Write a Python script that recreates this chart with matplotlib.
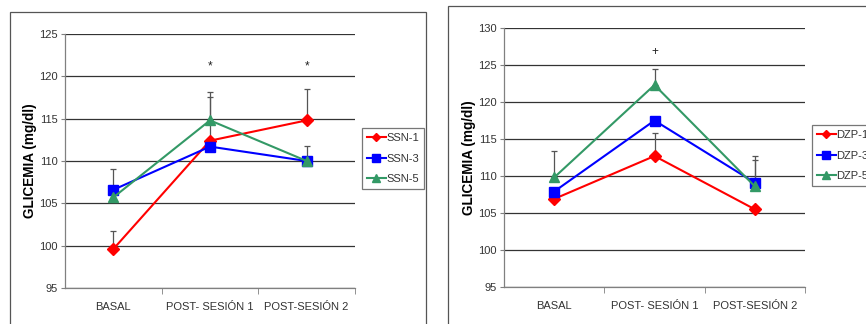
"""
Glycemia (mg/dl) over the three measurement points for the SSN and DZP groups.
Two side-by-side line charts with upper error bars, saved to out.png.
"""

import matplotlib.pyplot as plt
from matplotlib.patches import Rectangle

plt.rcParams["font.family"] = ["Liberation Sans", "DejaVu Sans"]

W, H = 866, 324

categories = ["BASAL", "POST- SESIÓN 1", "POST-SESIÓN 2"]

# SSN groups
ssn_labels = ["SSN-1", "SSN-3", "SSN-5"]
ssn_1 = [99.6, 112.4, 114.8]
ssn_3 = [106.6, 111.7, 110.0]
ssn_5 = [105.7, 114.8, 110.0]
ssn_1_err = [2.1, 5.1, 3.7]
ssn_3_err = [2.4, None, None]
ssn_5_err = [None, 3.3, 1.8]
ssn_marks = ["", "*", "*"]

# DZP groups
dzp_labels = ["DZP-1", "DZP-3", "DZP-5"]
dzp_1 = [106.9, 112.7, 105.5]
dzp_3 = [107.9, 117.5, 109.1]
dzp_5 = [109.8, 122.3, 108.6]
dzp_1_err = [None, 3.1, None]
dzp_3_err = [None, None, 3.6]
dzp_5_err = [3.6, 2.1, 3.5]
dzp_marks = ["", "+", ""]

COLORS = ["#ff0000", "#0000ff", "#339966"]
MARKERS = ["D", "s", "^"]
MSIZES = [6, 7, 7]


def px_axes(fig, x0, x1, y_top, y_bot):
    return fig.add_axes([x0 / W, 1 - y_bot / H, (x1 - x0) / W, (y_bot - y_top) / H])


def draw_panel(ax, series, errors, labels, marks, ylim, mark_y, legend_xy):
    x = list(range(len(categories)))
    handles = []
    for vals, errs, lab, c, m, ms in zip(series, errors, labels, COLORS, MARKERS, MSIZES):
        for i, e in enumerate(errs):
            if e is None:
                continue
            ax.errorbar([x[i]], [vals[i]], yerr=[[0], [e]], fmt="none",
                        ecolor="#555555", elinewidth=0.9, capsize=2.2,
                        capthick=0.9, zorder=2)
        h, = ax.plot(x, vals, color=c, marker=m, ms=ms, lw=1.5,
                     markeredgecolor=c, label=lab, zorder=3)
        handles.append(h)

    for i, s in enumerate(marks):
        if s:
            ax.text(x[i], mark_y, s, ha="center", va="center",
                    fontsize=8.5, color="#222222")

    ax.set_xlim(-0.5, len(categories) - 0.5)
    ax.set_ylim(*ylim)
    ax.set_yticks(range(ylim[0], ylim[1] + 1, 5))
    ax.yaxis.grid(True, color="#333333", lw=0.9)
    ax.set_axisbelow(True)
    ax.set_xticks(x)
    ax.set_xticklabels(categories)
    ax.set_xticks([0.5, 1.5, 2.5], minor=True)
    ax.tick_params(axis="x", which="major", length=0, pad=10)
    ax.tick_params(axis="x", which="minor", length=4, color="#808080")
    ax.tick_params(axis="y", length=3, color="#808080", pad=2)
    ax.tick_params(labelsize=8, labelcolor="#333333")
    for side in ("top", "right"):
        ax.spines[side].set_visible(False)
    for side in ("left", "bottom"):
        ax.spines[side].set_color("#808080")
        ax.spines[side].set_linewidth(0.9)
    ax.set_ylabel("GLICEMIA (mg/dl)", fontsize=9.8, fontweight="bold", labelpad=2)

    leg = ax.legend(handles=handles, loc="upper left",
                    bbox_to_anchor=(legend_xy[0] / W, 1 - legend_xy[1] / H),
                    bbox_transform=ax.figure.transFigure,
                    frameon=True, fancybox=False, fontsize=8, markerscale=0.75,
                    handlelength=1.7, handletextpad=0.05, labelspacing=0.95,
                    borderpad=0.45, borderaxespad=0)
    leg.get_frame().set_edgecolor("#555555")
    leg.get_frame().set_linewidth(0.9)
    for t in leg.get_texts():
        t.set_color("#333333")


fig = plt.figure(figsize=(W / 100, H / 100), dpi=100)

# outer chart borders
fig.patches.append(Rectangle((10 / W, -0.1), 416 / W, 1.1 - 12 / H,
                             transform=fig.transFigure, fill=False,
                             edgecolor="#555555", lw=0.9))
fig.patches.append(Rectangle((448 / W, -0.1), 500 / W, 1.1 - 6 / H,
                             transform=fig.transFigure, fill=False,
                             edgecolor="#555555", lw=0.9))

ax1 = px_axes(fig, 65, 355, 34, 288)
draw_panel(ax1, [ssn_1, ssn_3, ssn_5], [ssn_1_err, ssn_3_err, ssn_5_err],
           ssn_labels, ssn_marks, (95, 125), 121.2, (362, 128))

ax2 = px_axes(fig, 504, 805, 28, 287)
draw_panel(ax2, [dzp_1, dzp_3, dzp_5], [dzp_1_err, dzp_3_err, dzp_5_err],
           dzp_labels, dzp_marks, (95, 130), 126.8, (812, 125))

fig.savefig("out.png", dpi=100)
